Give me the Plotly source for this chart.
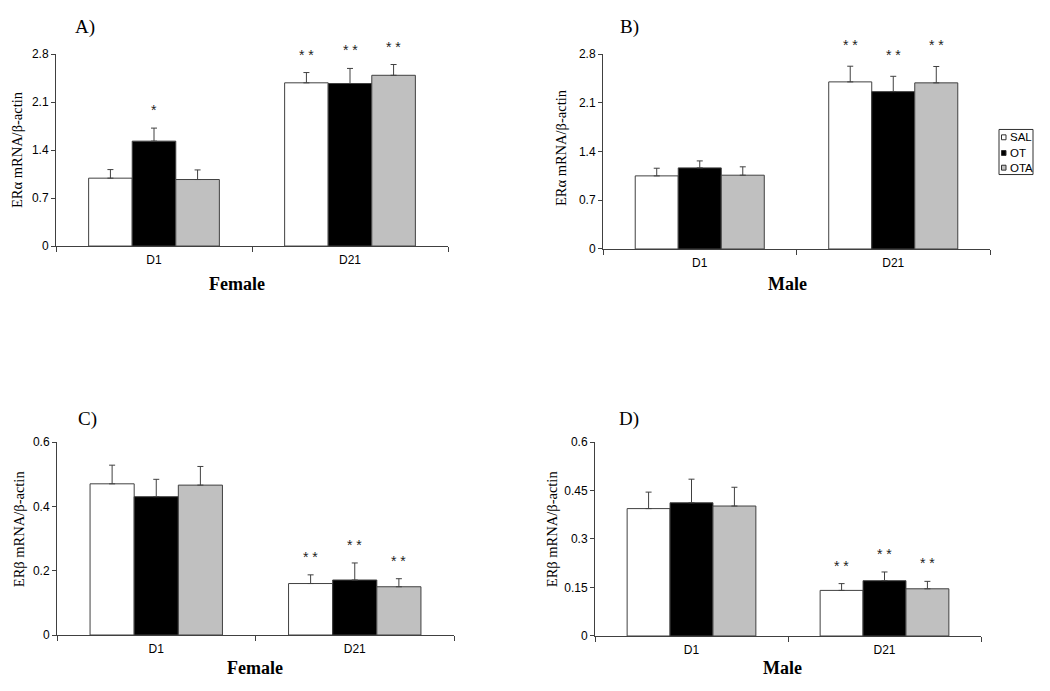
import plotly.graph_objects as go

W, H = 1050, 691

categories = ["D1", "D21"]
series = ["SAL", "OT", "OTA"]

# Panel A: ERalpha, Female
a_sal = [0.99, 2.38]
a_ot = [1.53, 2.37]
a_ota = [0.97, 2.49]
a_sal_err = [0.125, 0.15]
a_ot_err = [0.19, 0.22]
a_ota_err = [0.14, 0.157]
a_sal_sig = ["", "* *"]
a_ot_sig = ["*", "* *"]
a_ota_sig = ["", "* *"]

# Panel B: ERalpha, Male
b_sal = [1.05, 2.40]
b_ot = [1.165, 2.26]
b_ota = [1.06, 2.386]
b_sal_err = [0.11, 0.225]
b_ot_err = [0.10, 0.22]
b_ota_err = [0.12, 0.235]
b_sal_sig = ["", "* *"]
b_ot_sig = ["", "* *"]
b_ota_sig = ["", "* *"]

# Panel C: ERbeta, Female
c_sal = [0.470, 0.160]
c_ot = [0.430, 0.171]
c_ota = [0.466, 0.150]
c_sal_err = [0.058, 0.027]
c_ot_err = [0.054, 0.053]
c_ota_err = [0.058, 0.025]
c_sal_sig = ["", "* *"]
c_ot_sig = ["", "* *"]
c_ota_sig = ["", "* *"]

# Panel D: ERbeta, Male
d_sal = [0.394, 0.141]
d_ot = [0.412, 0.171]
d_ota = [0.402, 0.146]
d_sal_err = [0.051, 0.021]
d_ot_err = [0.073, 0.027]
d_ota_err = [0.058, 0.023]
d_sal_sig = ["", "* *"]
d_ot_sig = ["", "* *"]
d_ota_sig = ["", "* *"]

y_ticks_alpha = [0, 0.7, 1.4, 2.1, 2.8]
y_ticktext_alpha = ["0", "0.7", "1.4", "2.1", "2.8"]
y_ticks_c = [0, 0.2, 0.4, 0.6]
y_ticktext_c = ["0", "0.2", "0.4", "0.6"]
y_ticks_d = [0, 0.15, 0.3, 0.45, 0.6]
y_ticktext_d = ["0", "0.15", "0.3", "0.45", "0.6"]

fill_colors = ["#FFFFFF", "#000000", "#C0C0C0"]
edge = "#404040"
SANS = "Liberation Sans, Arial, sans-serif"
SERIF = "Liberation Serif, Times New Roman, serif"
BARGAP = 0.333

panels = [
    dict(vals=[a_sal, a_ot, a_ota], errs=[a_sal_err, a_ot_err, a_ota_err],
         sigs=[a_sal_sig, a_ot_sig, a_ota_sig],
         xd=(56, 448), yd=(48, 244), rng=[0, 2.8],
         tv=y_ticks_alpha, tt=y_ticktext_alpha,
         ylab="ERα mRNA/β-actin", ylab_pos=(17, 146),
         xlab="Female", xlab_pos=(237, 283),
         letter="A)", letter_pos=(73, 20), star_shift=18),
    dict(vals=[b_sal, b_ot, b_ota], errs=[b_sal_err, b_ot_err, b_ota_err],
         sigs=[b_sal_sig, b_ot_sig, b_ota_sig],
         xd=(603, 990), yd=(48, 247), rng=[0, 2.8],
         tv=y_ticks_alpha, tt=y_ticktext_alpha,
         ylab="ERα mRNA/β-actin", ylab_pos=(561, 144),
         xlab="Male", xlab_pos=(787, 283),
         letter="B)", letter_pos=(618, 20), star_shift=21),
    dict(vals=[c_sal, c_ot, c_ota], errs=[c_sal_err, c_ot_err, c_ota_err],
         sigs=[c_sal_sig, c_ot_sig, c_ota_sig],
         xd=(57, 454), yd=(444, 641), rng=[0, 0.6],
         tv=y_ticks_c, tt=y_ticktext_c,
         ylab="ERβ mRNA/β-actin", ylab_pos=(19, 533),
         xlab="Female", xlab_pos=(255, 675),
         letter="C)", letter_pos=(76, 421), star_shift=18),
    dict(vals=[d_sal, d_ot, d_ota], errs=[d_sal_err, d_ot_err, d_ota_err],
         sigs=[d_sal_sig, d_ot_sig, d_ota_sig],
         xd=(595, 981), yd=(444, 642), rng=[0, 0.6],
         tv=y_ticks_d, tt=y_ticktext_d,
         ylab="ERβ mRNA/β-actin", ylab_pos=(552, 533),
         xlab="Male", xlab_pos=(782, 675),
         letter="D)", letter_pos=(617, 421), star_shift=18),
]

fig = go.Figure()
annotations = []
shapes = []
layout = {}

for p_i, p in enumerate(panels):
    n = p_i + 1
    xa = "x" if n == 1 else f"x{n}"
    ya = "y" if n == 1 else f"y{n}"
    for s_i, name in enumerate(series):
        fig.add_trace(go.Bar(
            x=categories, y=p["vals"][s_i], name=name, showlegend=False,
            marker=dict(color=fill_colors[s_i], line=dict(color=edge, width=1)),
            error_y=dict(type="data", symmetric=False, array=p["errs"][s_i],
                         arrayminus=[0] * len(categories),
                         color=edge, thickness=1, width=3),
            xaxis=xa, yaxis=ya,
        ))
    xdom = [p["xd"][0] / W, p["xd"][1] / W]
    ydom = [1 - p["yd"][1] / H, 1 - p["yd"][0] / H]
    layout["xaxis" if n == 1 else f"xaxis{n}"] = dict(
        domain=xdom, anchor=ya, type="category", tickson="boundaries",
        ticks="outside", ticklen=5, tickcolor=edge, showline=True,
        linecolor=edge, linewidth=1, showgrid=False, zeroline=False,
        tickfont=dict(family=SANS, size=12, color="black"),
        ticklabelstandoff=3, fixedrange=True,
    )
    layout["yaxis" if n == 1 else f"yaxis{n}"] = dict(
        domain=ydom, anchor=xa, range=p["rng"], tickvals=p["tv"], ticktext=p["tt"],
        ticks="outside", ticklen=4, tickcolor=edge, showline=True,
        linecolor=edge, linewidth=1, showgrid=False, zeroline=False,
        tickfont=dict(family=SANS, size=12, color="black"), fixedrange=True,
    )
    cat_px = (p["xd"][1] - p["xd"][0]) / len(categories)
    bar_px = cat_px * (1 - BARGAP) / len(series)
    for s_i in range(len(series)):
        for c_i, cat in enumerate(categories):
            txt = p["sigs"][s_i][c_i]
            if not txt:
                continue
            annotations.append(dict(
                x=cat, xref=xa, y=p["vals"][s_i][c_i] + p["errs"][s_i][c_i], yref=ya,
                xshift=(s_i - 1) * bar_px, yshift=p["star_shift"],
                text=txt, showarrow=False, xanchor="center", yanchor="middle",
                font=dict(family=SANS, size=14, color="#222222"),
            ))
    annotations.append(dict(
        x=p["ylab_pos"][0] / W, y=1 - p["ylab_pos"][1] / H, xref="paper", yref="paper",
        text=p["ylab"], textangle=-90, showarrow=False, xanchor="center", yanchor="middle",
        font=dict(family=SERIF, size=14.5, color="black"),
    ))
    annotations.append(dict(
        x=p["xlab_pos"][0] / W, y=1 - p["xlab_pos"][1] / H, xref="paper", yref="paper",
        text="<b>" + p["xlab"] + "</b>", showarrow=False, xanchor="center", yanchor="middle",
        font=dict(family=SERIF, size=18, color="black"),
    ))
    annotations.append(dict(
        x=p["letter_pos"][0] / W, y=1 - p["letter_pos"][1] / H, xref="paper", yref="paper",
        text=p["letter"], showarrow=False, xanchor="left", yanchor="middle",
        font=dict(family=SERIF, size=19, color="black"),
    ))

# Manual legend (box, swatches, labels)
lg_x0, lg_x1, lg_y0, lg_y1 = 999, 1033, 125, 171
row_y = [133, 149, 164]
shapes.append(dict(type="rect", xref="paper", yref="paper",
                   x0=lg_x0 / W, x1=lg_x1 / W, y0=1 - lg_y1 / H, y1=1 - lg_y0 / H,
                   line=dict(color="#303030", width=1), fillcolor="white"))
for s_i, name in enumerate(series):
    cy = row_y[s_i]
    shapes.append(dict(type="rect", xref="paper", yref="paper",
                       x0=1001.5 / W, x1=1006 / W, y0=1 - (cy + 2.5) / H, y1=1 - (cy - 2.5) / H,
                       line=dict(color="#303030", width=1), fillcolor=fill_colors[s_i]))
    annotations.append(dict(
        x=1007.5 / W, y=1 - cy / H, xref="paper", yref="paper", text=name,
        showarrow=False, xanchor="left", yanchor="middle",
        font=dict(family=SANS, size=11.5, color="black"),
    ))

fig.update_layout(
    width=W, height=H, margin=dict(l=0, r=0, t=0, b=0),
    paper_bgcolor="white", plot_bgcolor="white",
    barmode="group", bargap=BARGAP, bargroupgap=0,
    annotations=annotations, shapes=shapes, showlegend=False,
    **layout,
)

fig.write_html("out.html", config={"displayModeBar": False},
               post_script="document.body.style.margin='0';")
